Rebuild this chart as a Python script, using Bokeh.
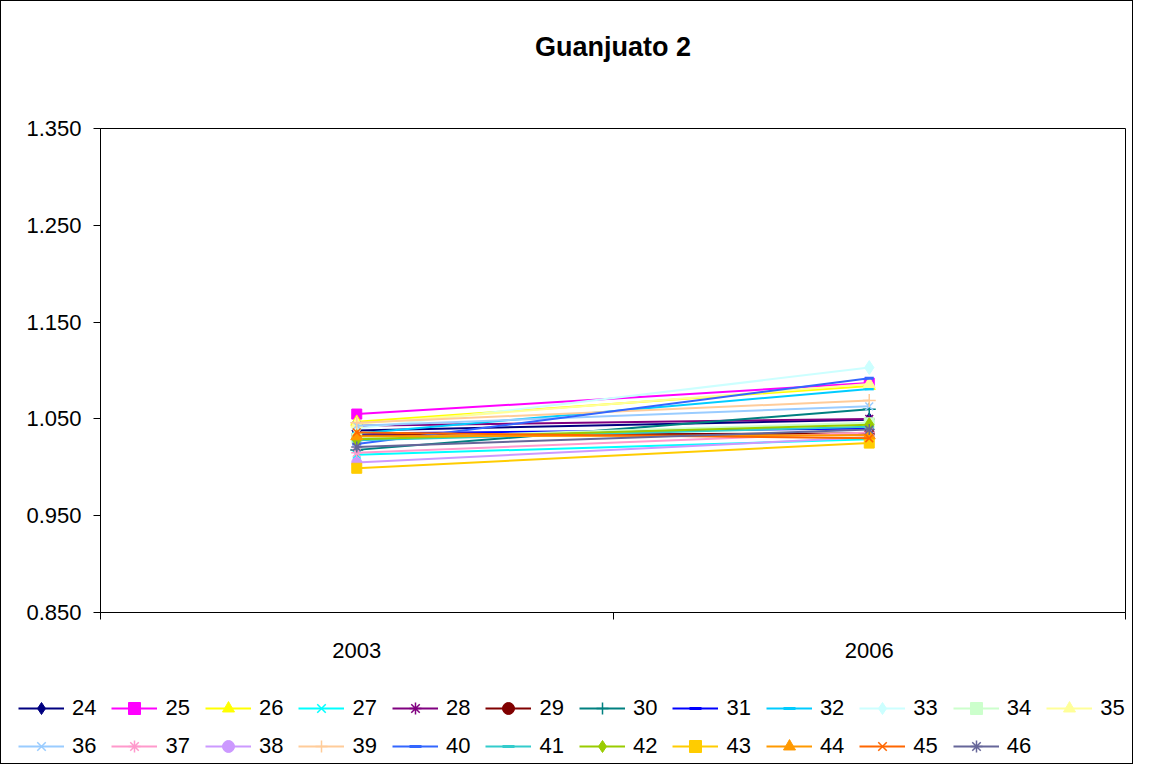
from bokeh.plotting import figure
from bokeh.layouts import column
from bokeh.models import FixedTicker, NumeralTickFormatter, Legend, LegendItem, Range1d, Title
from bokeh.embed import file_html
from bokeh.resources import INLINE

title = "Guanjuato 2"
years = ["2003", "2006"]
series = ["24", "25", "26", "27", "28", "29", "30", "31", "32", "33", "34", "35",
          "36", "37", "38", "39", "40", "41", "42", "43", "44", "45", "46"]
v2003 = [1.038, 1.055, 1.047, 1.013, 1.043, 1.033, 1.018, 1.035, 1.035, 1.040, 1.030, 1.045,
         1.043, 1.015, 1.005, 1.046, 1.024, 1.028, 1.029, 0.999, 1.032, 1.036, 1.021]
v2006 = [1.049, 1.087, 1.084, 1.029, 1.050, 1.035, 1.060, 1.040, 1.081, 1.103, 1.046, 1.086,
         1.063, 1.036, 1.031, 1.069, 1.092, 1.042, 1.044, 1.025, 1.033, 1.030, 1.039]
colors = ["#000080", "#FF00FF", "#FFFF00", "#00FFFF", "#800080", "#800000", "#008080", "#0000FF",
          "#00CCFF", "#CCFFFF", "#CCFFCC", "#FFFF99", "#99CCFF", "#FF99CC", "#CC99FF", "#FFCC99",
          "#3366FF", "#33CCCC", "#99CC00", "#FFCC00", "#FF9900", "#FF6600", "#666699"]
markers = ["diamond", "square", "triangle", "x", "asterisk", "circle", "cross", "dash",
           "dash", "diamond", "square", "triangle", "x", "asterisk", "circle", "cross",
           "dash", "dash", "diamond", "square", "triangle", "x", "asterisk"]
y_ticks = [0.85, 0.95, 1.05, 1.15, 1.25, 1.35]

FONT = "Liberation Sans"
marker_sizes = {"diamond": 14, "square": 10, "triangle": 12, "x": 11, "asterisk": 11,
                "circle": 10, "cross": 13, "dash": 9}

W = 1131
p = figure(width=W, height=680, output_backend="svg", toolbar_location=None,
           x_range=Range1d(0, len(years)), y_range=Range1d(y_ticks[0], y_ticks[-1]),
           min_border_left=99, min_border_right=7, min_border_top=127, min_border_bottom=69)
p.title.text = ""

# spacer title (closest to the frame), then the real title further out
p.add_layout(Title(text=" ", text_font=FONT, text_font_size="27px", standoff=30), "above")
p.add_layout(Title(text=title, align="center", text_font=FONT, text_font_size="27px",
                   text_font_style="bold", text_color="black", standoff=10), "above")

p.xgrid.visible = False
p.ygrid.visible = False
p.outline_line_color = "black"
p.outline_line_width = 1
p.background_fill_color = "white"
p.border_fill_color = "white"

# x axis: labels at category centers, ticks at category boundaries
xc = [i + 0.5 for i in range(len(years))]
p.xaxis.ticker = FixedTicker(ticks=xc, minor_ticks=list(range(len(years) + 1)))
p.xaxis.major_label_overrides = {c: y for c, y in zip(xc, years)}
p.xaxis.major_tick_out = 0
p.xaxis.major_tick_in = 0
p.xaxis.minor_tick_out = 7
p.xaxis.minor_tick_in = 0
p.xaxis.minor_tick_line_color = "black"
p.xaxis.axis_line_color = "black"
p.xaxis.major_label_standoff = 23
p.xaxis.major_label_text_font = FONT
p.xaxis.major_label_text_font_size = "22px"
p.xaxis.major_label_text_color = "black"

p.yaxis.ticker = FixedTicker(ticks=y_ticks, minor_ticks=[])
p.yaxis.formatter = NumeralTickFormatter(format="0.000")
p.yaxis.major_tick_out = 7
p.yaxis.major_tick_in = 0
p.yaxis.major_tick_line_color = "black"
p.yaxis.axis_line_color = "black"
p.yaxis.major_label_standoff = 12
p.yaxis.major_label_text_font = FONT
p.yaxis.major_label_text_font_size = "22px"
p.yaxis.major_label_text_color = "black"


def marker_lw(m):
    return 3 if m == "dash" else 1.5 if m in ("x", "asterisk", "cross") else 1


for name, a, b, c, m in zip(series, v2003, v2006, colors, markers):
    ys = [a, b]
    p.line(xc, ys, line_color=c, line_width=2)
    p.scatter(xc, ys, marker=m, size=marker_sizes[m], fill_color=c, line_color=c,
              line_width=marker_lw(m))

# legend panel below the chart: same series styles, rendered only as legend samples
LH = 82
lp = figure(width=W, height=LH, output_backend="svg", toolbar_location=None,
            x_range=Range1d(0, 1), y_range=Range1d(0, 1), min_border=0,
            min_border_left=0, min_border_right=0, min_border_top=0, min_border_bottom=0)
lp.axis.visible = False
lp.xgrid.visible = False
lp.ygrid.visible = False
lp.outline_line_color = None
lp.border_fill_color = "white"
lp.background_fill_color = "white"
for fig in (p, lp):
    if "frame_align" in fig.properties():
        fig.frame_align = False

items = []
for name, a, b, c, m in zip(series, v2003, v2006, colors, markers):
    ys = [a, b]
    lr = lp.line(xc, ys, line_color=c, line_width=2, visible=False)
    sr = lp.scatter(xc, ys, marker=m, size=marker_sizes[m], fill_color=c, line_color=c,
                    line_width=marker_lw(m), visible=False)
    items.append(LegendItem(label=name, renderers=[lr, sr]))


def make_legend(its, loc):
    return Legend(items=its, orientation="horizontal", location=loc,
                  glyph_width=46, glyph_height=30, label_standoff=8, spacing=15,
                  padding=0, margin=0, border_line_color=None, background_fill_alpha=0,
                  label_text_font=FONT, label_text_font_size="22px", label_text_color="black",
                  label_height=20)


lp.add_layout(make_legend(items[:12], (17, 40)), "center")
lp.add_layout(make_legend(items[12:], (17, 2)), "center")

layout = column(p, lp, spacing=0)
layout.styles = {"border": "1px solid black"}

open("out.html", "w").write(file_html(layout, INLINE))
